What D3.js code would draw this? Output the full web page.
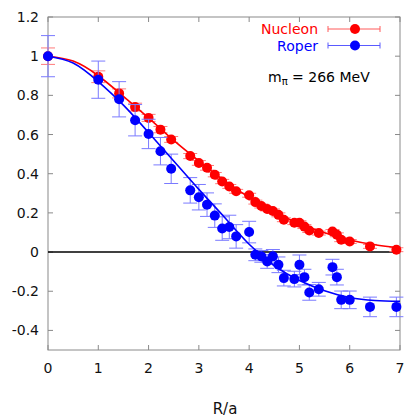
<!DOCTYPE html>
<html><head><meta charset="utf-8">
<script src="https://cdn.jsdelivr.net/npm/d3@7"></script>
<style>body{margin:0;background:#fff}svg{display:block}text{font-family:"DejaVu Sans",sans-serif}</style>
</head><body><svg id="c" width="405" height="418"></svg>
<script>
// lattice distances R/a (sqrt of integer)
const nucleonR2 = [0,1,2,3,4,5,6,8,9,10,11,12,13,14,16,17,18,19,20,21,22,24,25,26,27,29,32,33,34,36,41,48];
const nucleonV  = [1.0,0.895,0.81,0.74,0.685,0.625,0.575,0.49,0.455,0.43,0.395,0.36,0.335,0.31,0.29,0.255,0.235,0.22,0.21,0.19,0.165,0.15,0.15,0.13,0.11,0.097,0.105,0.088,0.063,0.054,0.029,0.012];
const nucleonE  = [0.042,0.03,0.023,0.02,0.018,0.016,0.015,0.013,0.012,0.012,0.011,0.011,0.01,0.01,0.01,0.01,0.01,0.01,0.01,0.01,0.01,0.01,0.01,0.01,0.01,0.01,0.01,0.01,0.01,0.01,0.01,0.01];
const roperR2 = [0,1,2,3,4,5,6,8,9,10,11,12,13,14,16,17,18,19,20,21,22,24,25,26,27,29,32,33,34,36,41,48];
const roperV  = [1.0,0.88,0.78,0.673,0.603,0.515,0.425,0.315,0.28,0.242,0.186,0.12,0.128,0.08,0.102,-0.014,-0.022,-0.048,-0.022,-0.065,-0.133,-0.138,-0.065,-0.128,-0.206,-0.19,-0.077,-0.128,-0.244,-0.244,-0.28,-0.28];
const roperE  = [0.105,0.095,0.09,0.08,0.075,0.07,0.075,0.065,0.065,0.06,0.06,0.06,0.06,0.06,0.055,0.03,0.03,0.035,0.035,0.04,0.04,0.04,0.05,0.04,0.04,0.035,0.04,0.04,0.045,0.045,0.05,0.05];
// fit curves
const fitR = [0,0.5,1,1.5,2,2.5,3,3.5,4,4.5,5,5.5,6,6.5,7];
const nucleonFit = [1.0,0.975,0.9,0.795,0.685,0.57,0.465,0.365,0.28,0.205,0.145,0.098,0.062,0.037,0.02];
const roperFit   = [1.0,0.965,0.87,0.75,0.61,0.465,0.32,0.18,0.04,-0.07,-0.145,-0.197,-0.232,-0.247,-0.252];
const xTicks = [0,1,2,3,4,5,6,7];
const yTicks = [-0.4,-0.2,0,0.2,0.4,0.6,0.8,1,1.2];
const yTickLabels = ["-0.4","-0.2","0","0.2","0.4","0.6","0.8","1","1.2"];

const svg = d3.select("#c");
const L=48,R=400,T=17,B=350;
const x = d3.scaleLinear().domain([0,7]).range([L,R]);
const y = d3.scaleLinear().domain([-0.5,1.2]).range([B,T]);

// frame
svg.append("rect").attr("x",L).attr("y",T).attr("width",R-L).attr("height",B-T)
  .attr("fill","none").attr("stroke","#8a8a8a").attr("stroke-width",1);
// ticks inside, all four sides
const tk=5;
const tg = svg.append("g").attr("stroke","#8a8a8a").attr("stroke-width",1);
xTicks.forEach(t=>{
  tg.append("line").attr("x1",x(t)).attr("x2",x(t)).attr("y1",B).attr("y2",B-tk);
  tg.append("line").attr("x1",x(t)).attr("x2",x(t)).attr("y1",T).attr("y2",T+tk);
});
yTicks.forEach(t=>{
  tg.append("line").attr("x1",L).attr("x2",L+tk).attr("y1",y(t)).attr("y2",y(t));
  tg.append("line").attr("x1",R).attr("x2",R-tk).attr("y1",y(t)).attr("y2",y(t));
});
// tick labels
svg.append("g").selectAll("text").data(xTicks).join("text")
  .attr("x",d=>x(d)).attr("y",373).attr("text-anchor","middle").attr("font-size",14).attr("fill","#111").text(d=>d);
svg.append("g").selectAll("text").data(yTicks).join("text")
  .attr("x",39).attr("y",d=>y(d)+5).attr("text-anchor","end").attr("font-size",14).attr("fill","#111")
  .text((d,i)=>yTickLabels[i]);
svg.append("text").attr("x",225).attr("y",414).attr("text-anchor","middle").attr("font-size",15).attr("fill","#111").text("R/a");

// zero line
svg.append("line").attr("x1",x(0)).attr("x2",x(7)).attr("y1",y(0)).attr("y2",y(0)).attr("stroke","#000").attr("stroke-width",1.5);

const line = d3.line().x(d=>x(d[0])).y(d=>y(d[1])).curve(d3.curveNatural);

function drawSeries(r2,v,e,fit,col,ecol){
  const pts = r2.map((q,i)=>({r:Math.sqrt(q),v:v[i],e:e[i]}));
  const g = svg.append("g");
  const eg = g.append("g").attr("stroke",ecol).attr("stroke-width",1);
  pts.forEach(p=>{
    eg.append("line").attr("x1",x(p.r)).attr("x2",x(p.r)).attr("y1",y(p.v-p.e)).attr("y2",y(p.v+p.e));
    [p.v-p.e,p.v+p.e].forEach(q=>eg.append("line").attr("x1",x(p.r)-7).attr("x2",x(p.r)+7).attr("y1",y(q)).attr("y2",y(q)));
  });
  g.append("path").datum(fitR.map((q,i)=>[q,fit[i]])).attr("d",line).attr("fill","none").attr("stroke",col).attr("stroke-width",1.6);
  g.selectAll("circle").data(pts).join("circle").attr("cx",d=>x(d.r)).attr("cy",d=>y(d.v)).attr("r",5).attr("fill",col);
}
drawSeries(nucleonR2,nucleonV,nucleonE,nucleonFit,"#ff0000","#ff7a7a");
drawSeries(roperR2,roperV,roperE,roperFit,"#0000ff","#7a7aff");

// legend
function legend(yy,label,col,ecol){
  svg.append("text").attr("x",318).attr("y",yy+5).attr("text-anchor","end").attr("font-size",14).attr("fill",col).text(label);
  svg.append("line").attr("x1",328).attr("x2",380).attr("y1",yy).attr("y2",yy).attr("stroke",ecol).attr("stroke-width",1);
  [328,380].forEach(xx=>svg.append("line").attr("x1",xx).attr("x2",xx).attr("y1",yy-3).attr("y2",yy+3).attr("stroke",ecol));
  svg.append("circle").attr("cx",355).attr("cy",yy).attr("r",5).attr("fill",col);
}
legend(29,"Nucleon","#ff0000","#ff5a5a");
legend(45.5,"Roper","#0000ff","#5a5aff");

const mt = svg.append("text").attr("x",268).attr("y",82).attr("font-size",14).attr("fill","#000");
mt.append("tspan").text("m");
mt.append("tspan").attr("font-size",10).attr("dy",3).text("π");
mt.append("tspan").attr("dy",-3).text(" = 266 MeV");
</script></body></html>
